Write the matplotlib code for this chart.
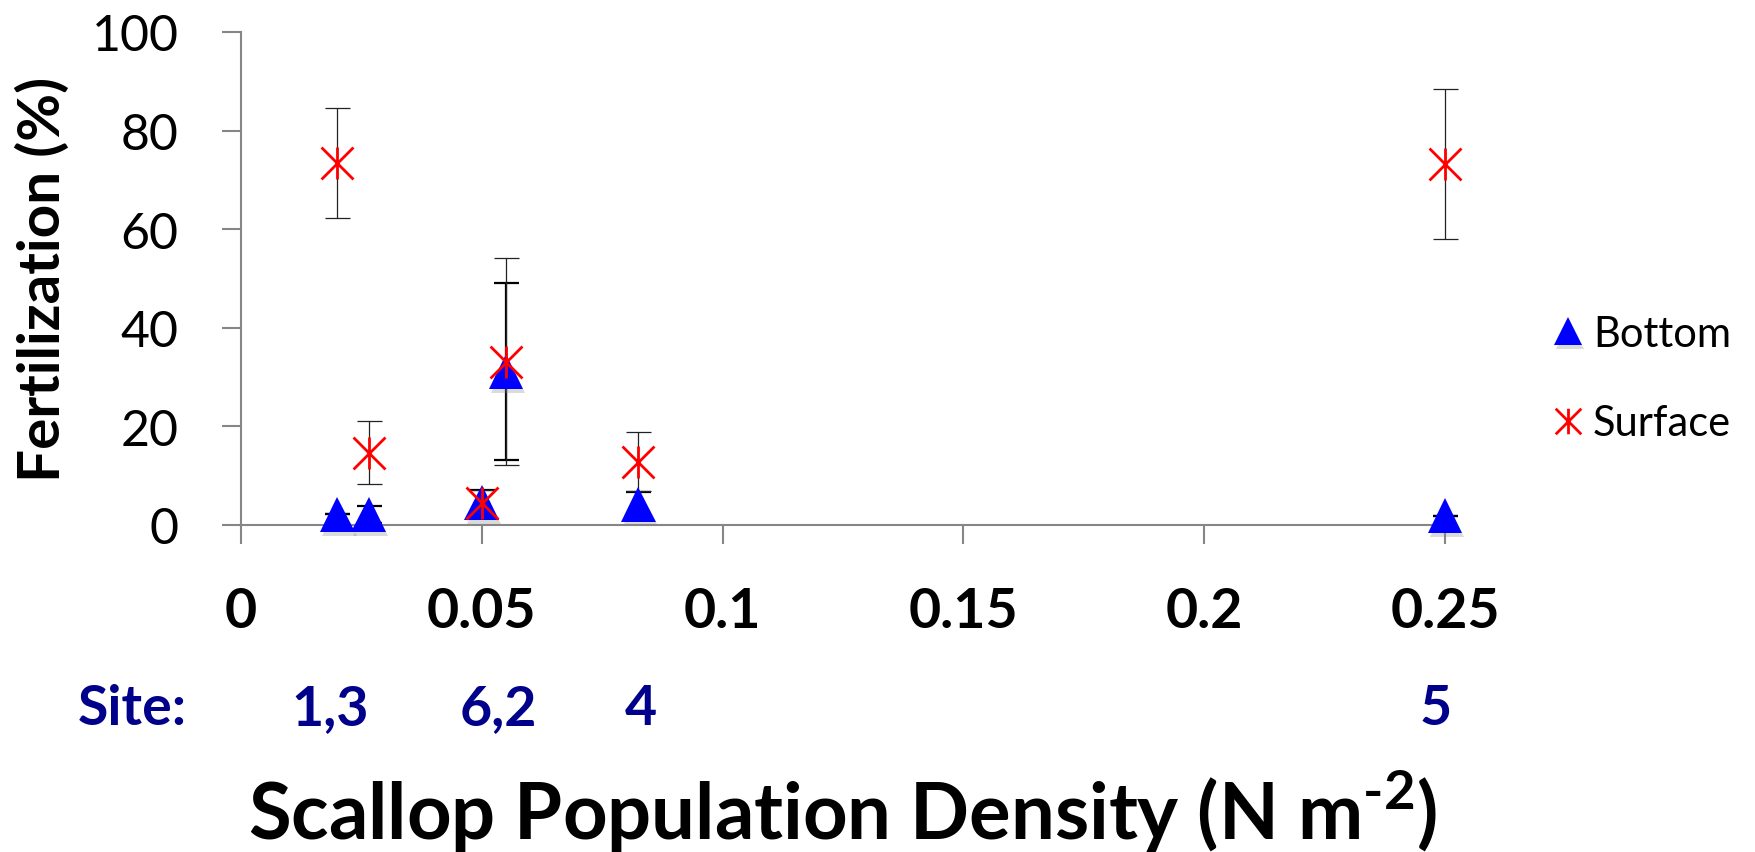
import numpy as np
import matplotlib
matplotlib.use("Agg")
import matplotlib.pyplot as plt
import matplotlib.patheffects as pe
from matplotlib.path import Path

plt.rcParams['font.family'] = ['Lato', 'DejaVu Sans']
plt.rcParams['mathtext.fontset'] = 'custom'
plt.rcParams['mathtext.rm'] = 'Lato'
plt.rcParams['mathtext.bf'] = 'Lato:bold'

# data
density = [0.02, 0.0265, 0.05, 0.055, 0.0825, 0.25]
bottom = [2.2, 2.2, 4.5, 31.1, 4.2, 1.9]
bottom_err = [0.0, 1.7, 2.5, 18.0, 2.5, 0.0]
surface = [73.4, 14.7, 4.5, 33.1, 12.8, 73.2]
surface_err = [11.2, 6.4, 2.5, 21.0, 6.0, 15.2]

site_labels = ["1,3", "6,2", "4", "5"]
site_pos = [0.0185, 0.0534, 0.083, 0.248]

x_ticks = [0, 0.05, 0.1, 0.15, 0.2, 0.25]
x_ticklabels = ["0", "0.05", "0.1", "0.15", "0.2", "0.25"]
y_ticks = [0, 20, 40, 60, 80, 100]

# Excel-style star: X with a vertical bar
star = Path([(-1, -1), (1, 1), (-1, 1), (1, -1), (0, -1), (0, 1)],
            [Path.MOVETO, Path.LINETO, Path.MOVETO, Path.LINETO, Path.MOVETO, Path.LINETO])

fig = plt.figure(figsize=(17.56, 8.53), dpi=100)
ax = fig.add_axes([241 / 1756, 1 - 526 / 853, 1204 / 1756, 493 / 853])

axis_grey = '#868686'

ax.errorbar(density, bottom, yerr=bottom_err, fmt='none', ecolor='black',
            elinewidth=1.6, capsize=9, capthick=1.6, zorder=2, clip_on=False)
ax.errorbar(density, surface, yerr=surface_err, fmt='none', ecolor='#222222',
            elinewidth=0.9, capsize=9, capthick=0.9, zorder=2, clip_on=False)

shadow = [pe.SimplePatchShadow(offset=(1.5, -3), shadow_rgbFace='#888888', alpha=0.3), pe.Normal()]
ax.plot(density, bottom, linestyle='none', marker='^', markersize=25,
        color='#0000FF', markeredgewidth=0, zorder=3, clip_on=False,
        path_effects=shadow, label='Bottom')
ax.plot(density, surface, linestyle='none', marker=star, markersize=23,
        markerfacecolor='none', markeredgecolor='#FF0000', markeredgewidth=2.0,
        zorder=4, clip_on=False, label='Surface')

ax.set_xlim(0, 0.25)
ax.set_ylim(0, 100)
ax.set_xticks(x_ticks)
ax.set_xticklabels(x_ticklabels, fontsize=40, fontweight='bold')
ax.set_yticks(y_ticks)
ax.tick_params(axis='y', labelsize=36, length=14, width=1.5, color=axis_grey, pad=31)
ax.tick_params(axis='x', length=14, width=1.5, color=axis_grey, pad=30)

for side in ['top', 'right']:
    ax.spines[side].set_visible(False)
for side in ['left', 'bottom']:
    ax.spines[side].set_color(axis_grey)
    ax.spines[side].set_linewidth(1.5)

ax.set_ylabel("Fertilization (%)", fontsize=42, fontweight='bold', va='center')
ax.yaxis.set_label_coords(-0.165, 0.5)
ax.set_xlabel("Scallop Population Density (N m$^{\\mathbf{\u20102}}$)",
              fontsize=56, fontweight='bold', va='center')
ax.xaxis.set_label_coords(0.5, -0.58)

site_color = '#00008B'
ax.text(-0.0905, -0.371, "Site:", transform=ax.transAxes, ha='center', va='center',
        fontsize=40, fontweight='bold', color=site_color)
for lab, xp in zip(site_labels, site_pos):
    ax.text(xp, -0.371, lab, transform=ax.get_xaxis_transform(), ha='center',
            va='center', fontsize=40, fontweight='bold', color=site_color)

leg = ax.legend(loc='center left', bbox_to_anchor=(0.8858, 0.555),
                bbox_transform=fig.transFigure, frameon=False, fontsize=30,
                borderpad=0, borderaxespad=0, handlelength=0.6,
                handletextpad=0.3, labelspacing=1.23, markerscale=0.8)

fig.savefig("out.png", dpi=100)
